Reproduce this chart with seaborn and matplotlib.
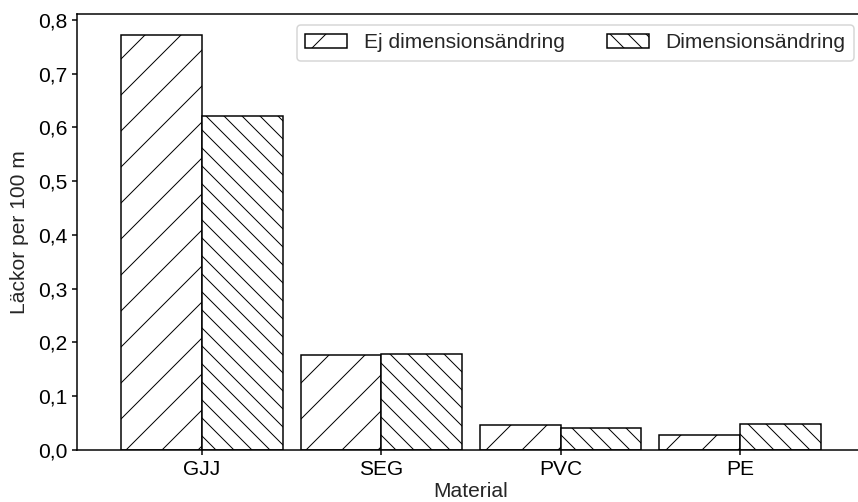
import matplotlib
matplotlib.use("Agg")
import matplotlib.pyplot as plt
import seaborn as sns
import pandas as pd

materials = ["GJJ", "SEG", "PVC", "PE"]
series_names = ["Ej dimensionsändring", "Dimensionsändring"]
ej_dim = [0.773, 0.177, 0.047, 0.027]
dim = [0.622, 0.178, 0.041, 0.048]
yticks = [0.0, 0.1, 0.2, 0.3, 0.4, 0.5, 0.6, 0.7, 0.8]
ytick_labels = ["0,0", "0,1", "0,2", "0,3", "0,4", "0,5", "0,6", "0,7", "0,8"]
hatches = ["//", "\\" * 4]

df = pd.DataFrame({
    "Material": materials * 2,
    "value": ej_dim + dim,
    "Typ": [series_names[0]] * len(materials) + [series_names[1]] * len(materials),
})

DPI = 216


def pt(px):
    return px * 72.0 / DPI


sns.set_theme(style="ticks")
plt.rcParams["font.family"] = ["Liberation Sans", "DejaVu Sans"]
plt.rcParams["hatch.linewidth"] = pt(1.0)
plt.rcParams["axes.linewidth"] = pt(1.5)

fig = plt.figure(figsize=(858 / DPI, 502 / DPI), dpi=DPI)
ax_left, ax_right, ax_top, ax_bottom = 77, 865, 14.3, 450
ax = fig.add_axes([ax_left / 858, (502 - ax_bottom) / 502,
                   (ax_right - ax_left) / 858, (ax_bottom - ax_top) / 502])

sns.barplot(data=df, x="Material", y="value", hue="Typ", order=materials,
            hue_order=series_names, width=0.9, ax=ax, legend=False,
            errorbar=None, saturation=1)

for cont, h in zip(ax.containers, hatches):
    for p in cont.patches:
        p.set_facecolor("white")
        p.set_edgecolor("black")
        p.set_linewidth(pt(1.5))
        p.set_hatch(h)

fs = pt(21)
ax.set_xlim(-0.697, 3.697)
ax.set_ylim(0, 0.8106)
ax.set_yticks(yticks)
ax.set_yticklabels(ytick_labels)
ax.tick_params(axis="both", labelsize=fs, length=pt(5.25), width=pt(1.5),
               pad=pt(4.5), colors="black")
ax.set_xlabel("Material", fontsize=fs, labelpad=pt(3))
ax.set_ylabel("Läckor per 100 m", fontsize=fs, labelpad=pt(9))
for s in ax.spines.values():
    s.set_color("black")
    s.set_linewidth(pt(1.5))

handles = [cont.patches[0] for cont in ax.containers]
anchor_x = (854 - ax_left) / (ax_right - ax_left)
anchor_y = (ax_bottom - 25) / (ax_bottom - ax_top)
leg = ax.legend(handles, series_names, loc="upper right", ncol=2, fontsize=fs,
                bbox_to_anchor=(anchor_x, anchor_y), borderaxespad=0,
                frameon=True, handlelength=2.0, columnspacing=2.0)
leg.get_frame().set_linewidth(pt(1.5))
leg.get_frame().set_edgecolor("#cccccc")

fig.savefig("out.png", dpi=DPI)
